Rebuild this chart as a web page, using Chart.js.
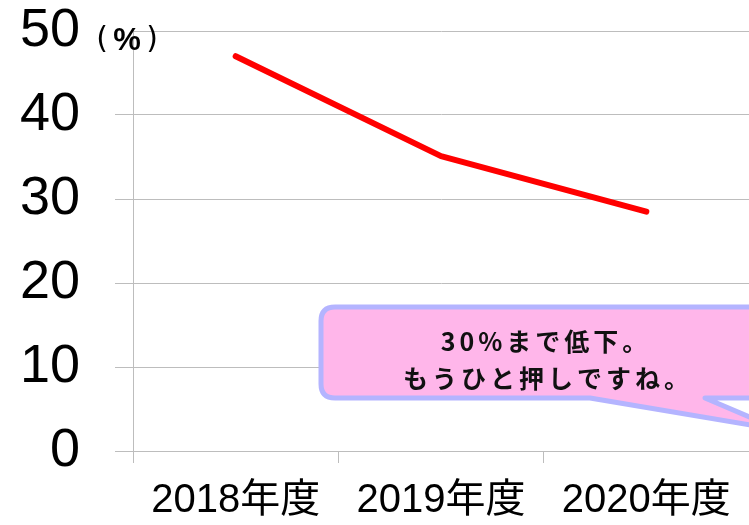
<!DOCTYPE html>
<html>
<head>
<meta charset="utf-8">
<script src="https://cdn.jsdelivr.net/npm/chart.js@4"></script>
<style>
  html, body { margin: 0; padding: 0; background: #ffffff; }
  #wrap { width: 749px; height: 525px; position: relative; }
</style>
</head>
<body>
<div id="wrap"><canvas id="chart" width="749" height="525"></canvas></div>
<script>
const years = ['2018年度', '2019年度', '2020年度'];
const rates = [47, 35.1, 28.5];
const yTicks = [0, 10, 20, 30, 40, 50];
const unitParts = ['(', '%', ')'];
const calloutLines = ['30%まで低下。', 'もうひと押しですね。'];

const gridGray = '#bdbdbd';

const calloutPlugin = {
    id: 'callout',
    afterDraw(chart) {
        const ctx = chart.ctx;
        ctx.save();

        // unit label next to the top tick
        ctx.fillStyle = '#000';
        ctx.textAlign = 'center';
        ctx.textBaseline = 'middle';
        ctx.font = '30px "DejaVu Sans", sans-serif';
        ctx.fillText(unitParts[0], 102, 40);
        ctx.fillText(unitParts[2], 152, 40);
        ctx.font = 'bold 31px "Liberation Sans", sans-serif';
        ctx.fillText(unitParts[1], 127, 41);

        // speech bubble
        const left = 321, top = 307, right = 770, bottom = 398, r = 14;
        ctx.beginPath();
        ctx.moveTo(left + r, top);
        ctx.lineTo(right, top);
        ctx.lineTo(right, bottom);
        ctx.lineTo(705, bottom);
        ctx.lineTo(780, 430);
        ctx.lineTo(590, bottom);
        ctx.lineTo(left + r, bottom);
        ctx.quadraticCurveTo(left, bottom, left, bottom - r);
        ctx.lineTo(left, top + r);
        ctx.quadraticCurveTo(left, top, left + r, top);
        ctx.closePath();
        ctx.fillStyle = '#ffb6ea';
        ctx.fill();
        ctx.lineWidth = 5;
        ctx.lineJoin = 'round';
        ctx.strokeStyle = '#b4b4ff';
        ctx.stroke();

        ctx.fillStyle = '#111';
        ctx.font = 'bold 25px "Noto Sans CJK JP", sans-serif';
        ctx.letterSpacing = '4px';
        ctx.fillText(calloutLines[0], 546, 341);
        ctx.fillText(calloutLines[1], 548, 378);
        ctx.restore();
    }
};

new Chart(document.getElementById('chart').getContext('2d'), {
    type: 'line',
    data: {
        labels: years,
        datasets: [{
            data: rates,
            borderColor: '#ff0000',
            borderWidth: 6,
            borderCapStyle: 'round',
            borderJoinStyle: 'round',
            pointRadius: 0,
            tension: 0,
            fill: false
        }]
    },
    options: {
        responsive: false,
        animation: false,
        layout: { padding: { top: 31, right: 0, left: 0, bottom: 0 } },
        plugins: {
            legend: { display: false },
            tooltip: { enabled: false }
        },
        scales: {
            x: {
                offset: true,
                grid: {
                    offset: true,
                    drawOnChartArea: false,
                    drawTicks: true,
                    tickLength: 12,
                    color: gridGray
                },
                border: { color: gridGray },
                ticks: {
                    color: '#000',
                    padding: 14,
                    maxRotation: 0,
                    font: { family: '"Liberation Sans", "Noto Sans CJK JP", sans-serif', size: 40 }
                },
                afterFit(scale) {
                    scale.height = 74;
                    scale.paddingRight = 0;
                }
            },
            y: {
                min: 0,
                max: 50,
                afterBuildTicks(scale) { scale.ticks = yTicks.map(v => ({ value: v })); },
                grid: {
                    color: gridGray,
                    tickLength: 18,
                    tickColor: (c) => (c.tick && c.tick.value === 50) ? 'rgba(0,0,0,0)' : gridGray
                },
                border: { color: gridGray },
                ticks: {
                    color: '#000',
                    padding: 35,
                    font: { family: '"Liberation Sans", Arial, sans-serif', size: 54 }
                },
                afterFit(scale) {
                    scale.width = 133;
                    scale.paddingTop = 0;
                    scale.paddingBottom = 0;
                }
            }
        }
    },
    plugins: [calloutPlugin]
});
</script>
</body>
</html>
